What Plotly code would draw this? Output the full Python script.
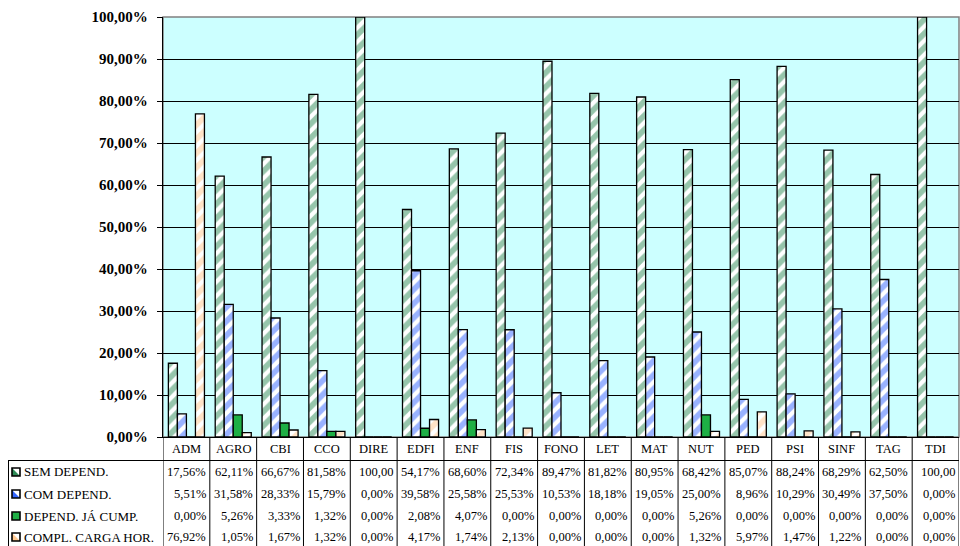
import plotly.graph_objects as go

categories = ["ADM", "AGRO", "CBI", "CCO", "DIRE", "EDFI", "ENF", "FIS", "FONO",
              "LET", "MAT", "NUT", "PED", "PSI", "SINF", "TAG", "TDI"]
series_names = ["SEM DEPEND.", "COM DEPEND.", "DEPEND. JÁ CUMP.", "COMPL. CARGA HOR."]
sem_depend = [17.56, 62.11, 66.67, 81.58, 100.00, 54.17, 68.60, 72.34, 89.47,
              81.82, 80.95, 68.42, 85.07, 88.24, 68.29, 62.50, 100.00]
com_depend = [5.51, 31.58, 28.33, 15.79, 0.00, 39.58, 25.58, 25.53, 10.53,
              18.18, 19.05, 25.00, 8.96, 10.29, 30.49, 37.50, 0.00]
depend_cump = [0.00, 5.26, 3.33, 1.32, 0.00, 2.08, 4.07, 0.00, 0.00,
               0.00, 0.00, 5.26, 0.00, 0.00, 0.00, 0.00, 0.00]
compl_carga = [76.92, 1.05, 1.67, 1.32, 0.00, 4.17, 1.74, 2.13, 0.00,
               0.00, 0.00, 1.32, 5.97, 1.47, 1.22, 0.00, 0.00]
y_ticks = [0, 10, 20, 30, 40, 50, 60, 70, 80, 90, 100]

series_values = [sem_depend, com_depend, depend_cump, compl_carga]

W, H = 960, 546
L, R, T, B = 163, 959, 17, 437
FONT = "Liberation Serif, Times New Roman, serif"

def xp(p):
    return (p - L) / (R - L)

def yp(p):
    return (B - p) / (B - T)

def fmt(v):
    s = f"{v:.2f}".replace(".", ",") + "%"
    return s[:6]

def pat(fg):
    return dict(shape="/", fgcolor=fg, bgcolor="white", size=10, solidity=0.58,
                fillmode="overlay")

styles = [
    dict(color="white", pattern=pat("#2E8B57")),
    dict(color="white", pattern=pat("#3366FF")),
    dict(color="#1EAF45"),
    dict(color="white", pattern=pat("#FFC890")),
]

fig = go.Figure()
for name, vals, st in zip(series_names, series_values, styles):
    fig.add_trace(go.Bar(
        x=categories, y=vals, name=name,
        marker=dict(**st, line=dict(color="black", width=1.3)),
        showlegend=False, hoverinfo="x+y+name",
    ))

shapes = []
annotations = []

shapes.append(dict(type="rect", xref="paper", yref="paper", x0=0, x1=1, y0=0, y1=1,
                   line=dict(color="#808080", width=1.5), layer="below"))

y_bottom = yp(H + 5)
for k in range(len(categories) + 1):
    shapes.append(dict(type="line", xref="x", yref="paper", x0=k - 0.5, x1=k - 0.5,
                       y0=0, y1=y_bottom, line=dict(color="black", width=1)))
shapes.append(dict(type="line", xref="paper", yref="paper", x0=xp(8), x1=1,
                   y0=yp(460.5), y1=yp(460.5), line=dict(color="black", width=1)))
shapes.append(dict(type="line", xref="paper", yref="paper", x0=xp(8.5), x1=xp(8.5),
                   y0=yp(460.5), y1=y_bottom, line=dict(color="black", width=1)))

for i, c in enumerate(categories):
    annotations.append(dict(x=i, y=yp(449), xref="x", yref="paper", text=c,
                            showarrow=False, xanchor="center", yanchor="middle",
                            font=dict(family=FONT, size=12.5, color="black")))

row_centers = [472, 494, 516, 537]
key_fill = ["#2E8B57", "#3366FF", "#1EAF45", "#FFC890"]

for r, (name, vals) in enumerate(zip(series_names, series_values)):
    yc = row_centers[r]
    x0, x1 = xp(12), xp(20)
    y0, y1 = yp(yc + 4), yp(yc - 4)
    shapes.append(dict(type="rect", xref="paper", yref="paper", x0=x0, x1=x1, y0=y0, y1=y1,
                       fillcolor="white", line=dict(width=0)))
    shapes.append(dict(type="path", xref="paper", yref="paper",
                       path=f"M {x0} {y0} L {x0} {y1} L {x1} {y0} Z",
                       fillcolor=key_fill[r], line=dict(width=0)))
    if r == 2:
        shapes.append(dict(type="rect", xref="paper", yref="paper", x0=x0, x1=x1, y0=y0, y1=y1,
                           fillcolor=key_fill[r], line=dict(width=0)))
    shapes.append(dict(type="rect", xref="paper", yref="paper", x0=x0, x1=x1, y0=y0, y1=y1,
                       line=dict(color="black", width=1.6)))
    annotations.append(dict(x=xp(22), y=yp(yc), xref="paper", yref="paper", text=name,
                            showarrow=False, xanchor="left", yanchor="middle",
                            font=dict(family=FONT, size=13, color="black")))
    for i, v in enumerate(vals):
        annotations.append(dict(x=i + 0.46, y=yp(yc), xref="x", yref="paper", text=fmt(v),
                                showarrow=False, xanchor="right", yanchor="middle",
                                font=dict(family=FONT, size=12.5, color="black")))

fig.update_layout(
    width=W, height=H,
    margin=dict(l=L, r=W - R, t=T, b=H - B, pad=0),
    paper_bgcolor="white", plot_bgcolor="#CCFFFF",
    barmode="group", bargap=0.23, bargroupgap=0,
    shapes=shapes, annotations=annotations,
    xaxis=dict(range=[-0.5, len(categories) - 0.5], showticklabels=False, showgrid=False,
               showline=True, linecolor="black", linewidth=1.3, zeroline=False,
               ticks="", fixedrange=True),
    yaxis=dict(range=[0, 100], tickvals=y_ticks,
               ticktext=[f"{v:.2f}".replace(".", ",") + "%" for v in y_ticks],
               showgrid=True, gridcolor="black", gridwidth=1,
               showline=True, linecolor="black", linewidth=1.3, zeroline=False,
               ticks="outside", ticklen=5, tickcolor="black", ticklabelstandoff=6,
               tickfont=dict(family=FONT, size=15, color="black", weight="bold"),
               fixedrange=True),
    font=dict(family=FONT, color="black"),
)

fig.write_html("out.html", config={"displayModeBar": False},
               post_script="document.body.style.margin='0';document.body.style.overflow='hidden';")
